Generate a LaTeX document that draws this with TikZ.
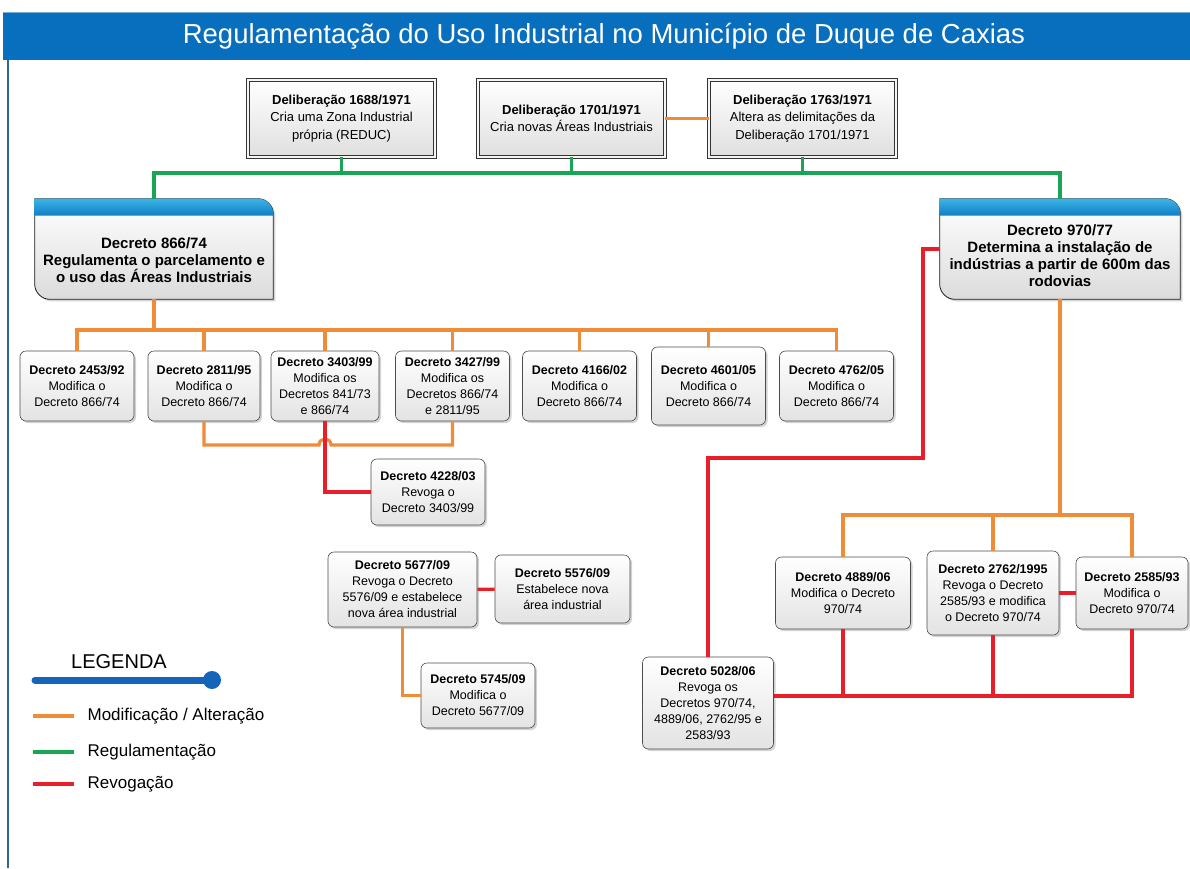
\documentclass[tikz,border=0pt]{standalone}
\usepackage{fontspec}
\setmainfont{Liberation Sans}
\usepackage{tikz}
\usetikzlibrary{shadows}
\definecolor{modcolor}{RGB}{240,140,55}
\definecolor{regcolor}{RGB}{25,165,85}
\definecolor{revcolor}{RGB}{232,30,40}
\definecolor{headblue}{RGB}{8,110,190}
\definecolor{legblue}{RGB}{20,100,185}
\definecolor{headtop}{RGB}{60,180,230}
\definecolor{headbot}{RGB}{15,125,195}
\definecolor{framecolor}{RGB}{45,105,140}

\begin{document}
\begin{tikzpicture}[x=1pt,y=-1pt,semithick]
  \tikzstyle{dec}=[rectangle,rounded corners=6pt,draw=gray!60!black,top color=white,bottom color=gray!22,
                   drop shadow={shadow xshift=2pt,shadow yshift=-2pt,opacity=0.35},
                   align=center,inner sep=2pt,minimum width=114pt,minimum height=70pt,
                   font=\fontsize{12.5}{16}\selectfont]
  \tikzstyle{delib}=[rectangle,draw=gray!40!black,line width=0.9pt,double=gray!8,double distance=2.4pt,
                   top color=white,bottom color=gray!25,
                   drop shadow={shadow xshift=2pt,shadow yshift=-2pt,opacity=0.35},
                   align=center,minimum width=187pt,minimum height=77pt,
                   font=\fontsize{13}{17.5}\selectfont]
  \tikzstyle{big}=[rectangle,minimum height=100pt,inner sep=0pt]
  \tikzstyle{bigtext}=[align=center,font=\fontsize{15}{17}\selectfont\bfseries]
  \tikzstyle{bigbody}=[draw=gray!25!black,thick,top color=white,bottom color=gray!28,
                   drop shadow={shadow xshift=2pt,shadow yshift=-2pt,opacity=0.35}]
  \tikzstyle{bighead}=[top color=headtop,bottom color=headbot]
  \tikzstyle{modline}=[draw=modcolor,line width=3.2pt]
  \tikzstyle{regline}=[draw=regcolor,line width=3.2pt]
  \tikzstyle{revline}=[draw=revcolor,line width=3.2pt]
  \tikzstyle{legtext}=[anchor=west,font=\fontsize{17}{20}\selectfont]

  \useasboundingbox (0,0) rectangle (1190,868);
  \fill[headblue] (3,12) rectangle (1190,60);
  \draw[headblue!55!white] (3,12) -- (1190,12);
  \node[text=white,font=\fontsize{27.5}{30}\selectfont] (TITLE) at (604,36)
       {Regulamentação do Uso Industrial no Município de Duque de Caxias};
  \draw[framecolor,line width=1.3pt] (8,60) -- (8,868);

  \node[delib] (D1688) at (341.5,118.5) {\textbf{Deliberação 1688/1971}\\Cria uma Zona Industrial\\própria (REDUC)};
  \node[delib] (D1701) at (571.5,118.5) {\textbf{Deliberação 1701/1971}\\Cria novas Áreas Industriais};
  \node[delib] (D1763) at (802.5,118.5) {\textbf{Deliberação 1763/1971}\\Altera as delimitações da\\Deliberação 1701/1971};

  \node[big,minimum width=238pt] (DEC866) at (154,249) {};
  \draw[bigbody] (DEC866.north west) -- ([xshift=-15pt]DEC866.north east)
     .. controls ([xshift=-7pt]DEC866.north east) and ([yshift=-7pt]DEC866.north east) .. ([yshift=-15pt]DEC866.north east)
     -- (DEC866.south east) -- ([xshift=15pt]DEC866.south west)
     .. controls ([xshift=7pt]DEC866.south west) and ([yshift=7pt]DEC866.south west) .. ([yshift=15pt]DEC866.south west) -- cycle;
  \shade[bighead] (DEC866.north west) -- ([xshift=-15pt]DEC866.north east)
     .. controls ([xshift=-7pt]DEC866.north east) and ([yshift=-7pt]DEC866.north east) .. ([yshift=-15pt]DEC866.north east)
     -- ([yshift=-17pt]DEC866.north east) -- ([yshift=-17pt]DEC866.north west) -- cycle;
  \node[bigtext] (DEC866T) at ([yshift=-11pt]DEC866.center) {Decreto 866/74\\Regulamenta o parcelamento e\\o uso das Áreas Industriais};

  \node[big,minimum width=240pt] (DEC970) at (1060,249) {};
  \draw[bigbody] (DEC970.north west) -- ([xshift=-15pt]DEC970.north east)
     .. controls ([xshift=-7pt]DEC970.north east) and ([yshift=-7pt]DEC970.north east) .. ([yshift=-15pt]DEC970.north east)
     -- (DEC970.south east) -- ([xshift=15pt]DEC970.south west)
     .. controls ([xshift=7pt]DEC970.south west) and ([yshift=7pt]DEC970.south west) .. ([yshift=15pt]DEC970.south west) -- cycle;
  \shade[bighead] (DEC970.north west) -- ([xshift=-15pt]DEC970.north east)
     .. controls ([xshift=-7pt]DEC970.north east) and ([yshift=-7pt]DEC970.north east) .. ([yshift=-15pt]DEC970.north east)
     -- ([yshift=-17pt]DEC970.north east) -- ([yshift=-17pt]DEC970.north west) -- cycle;
  \node[bigtext] (DEC970T) at ([yshift=-7pt]DEC970.center) {Decreto 970/77\\Determina a instalação de\\indústrias a partir de 600m das\\rodovias};

  \node[dec]                  (D2453) at (77,386)    {\textbf{Decreto 2453/92}\\Modifica o\\Decreto 866/74};
  \node[dec,minimum width=112pt] (D2811) at (204,386) {\textbf{Decreto 2811/95}\\Modifica o\\Decreto 866/74};
  \node[dec,minimum width=108pt] (D3403) at (325,386) {\textbf{Decreto 3403/99}\\Modifica os\\Decretos 841/73\\e 866/74};
  \node[dec]                  (D3427) at (452.5,386) {\textbf{Decreto 3427/99}\\Modifica os\\Decretos 866/74\\e 2811/95};
  \node[dec]                  (D4166) at (579.5,386) {\textbf{Decreto 4166/02}\\Modifica o\\Decreto 866/74};
  \node[dec,minimum height=78pt] (D4601) at (708.5,386) {\textbf{Decreto 4601/05}\\Modifica o\\Decreto 866/74};
  \node[dec]                  (D4762) at (836.5,386) {\textbf{Decreto 4762/05}\\Modifica o\\Decreto 866/74};
  \node[dec,minimum height=66pt] (D4228) at (428,492) {\textbf{Decreto 4228/03}\\Revoga o\\Decreto 3403/99};

  \node[dec,minimum width=149pt,minimum height=75pt] (M5677) at (402.5,589.5) {\textbf{Decreto 5677/09}\\Revoga o Decreto\\5576/09 e estabelece\\nova área industrial};
  \node[dec,minimum width=135pt,minimum height=68pt] (M5576) at (562.5,589) {\textbf{Decreto 5576/09}\\Estabelece nova\\área industrial};
  \node[dec,minimum height=65pt] (M5745) at (478,695.5) {\textbf{Decreto 5745/09}\\Modifica o\\Decreto 5677/09};

  \node[dec,minimum width=135pt,minimum height=72pt] (D4889) at (843,593) {\textbf{Decreto 4889/06}\\Modifica o Decreto\\970/74};
  \node[dec,minimum width=132pt,minimum height=84pt] (D2762) at (993,593) {\textbf{Decreto 2762/1995}\\Revoga o Decreto\\2585/93 e modifica\\o Decreto 970/74};
  \node[dec,minimum width=112pt,minimum height=72pt] (D2585) at (1132,593) {\textbf{Decreto 2585/93}\\Modifica o\\Decreto 970/74};
  \node[dec,minimum width=131pt,minimum height=92pt] (D5028) at (708,703) {\textbf{Decreto 5028/06}\\Revoga os\\Decretos 970/74,\\4889/06, 2762/95 e\\2583/93};

  \coordinate (GBUS)  at (154,173);
  \coordinate (OBUS)  at (154,330);
  \coordinate (HOP)   at (325,445);
  \coordinate (OBUS2) at (1060,515);
  \coordinate (RTURN) at (923,458);
  \coordinate (RBUS)  at ([yshift=7pt]D5028.east);

  \draw[regline] (DEC866.north) -- (GBUS) -| (DEC970.north);
  \path (D1688.south) edge[regline] (D1688.south |- GBUS)
        (D1701.south) edge[regline] (D1701.south |- GBUS)
        (D1763.south) edge[regline] (D1763.south |- GBUS);
  \path (D1701) edge[modline] (D1763);

  \draw[modline] (DEC866.south) -- (OBUS);
  \draw[modline] (D2453.north) |- (OBUS) -| (D4762.north);
  \path (D2811.north) edge[modline] (D2811.north |- OBUS)
        (D3403.north) edge[modline] (D3403.north |- OBUS)
        (D3427.north) edge[modline] (D3427.north |- OBUS)
        (D4166.north) edge[modline] (D4166.north |- OBUS)
        (D4601.north) edge[modline] (D4601.north |- OBUS);
  \draw[modline] (D2811.south) |- ([xshift=-6pt]HOP)
     .. controls ([xshift=-6pt,yshift=8pt]HOP) and ([xshift=6pt,yshift=8pt]HOP) .. ([xshift=6pt]HOP) -| (D3427.south);
  \draw[revline] (D3403.south) |- (D4228.west);

  \path (M5677) edge[revline] (M5576);
  \draw[modline] (M5677.south) |- (M5745.west);

  \draw[modline] (DEC970.south) -- (OBUS2);
  \draw[modline] (D4889.north) |- (OBUS2) -| (D2585.north);
  \path (D2762.north) edge[modline] (D2762.north |- OBUS2);
  \path (D2762) edge[revline] (D2585);
  \draw[revline] (DEC970.west) -| (RTURN) -| (D5028.north);
  \draw[revline] (RBUS) -| (D2585.south);
  \path (D4889.south) edge[revline] (D4889.south |- RBUS)
        (D2762.south) edge[revline] (D2762.south |- RBUS);

  \node[font=\fontsize{20}{24}\selectfont] (LEG) at (119,662) {LEGENDA};
  \draw[legblue,line width=7pt,line cap=round] (35,680) -- (212,680);
  \fill[legblue] (212,680) circle (9pt);
  \draw[modline] (33,716) -- (74,716);
  \node[legtext] (LEGMOD) at (84,716) {Modificação / Alteração};
  \draw[regline] (33,752) -- (74,752);
  \node[legtext] (LEGREG) at (84,752) {Regulamentação};
  \draw[revline] (33,784) -- (74,784);
  \node[legtext] (LEGREV) at (84,784) {Revogação};
\end{tikzpicture}
\end{document}
